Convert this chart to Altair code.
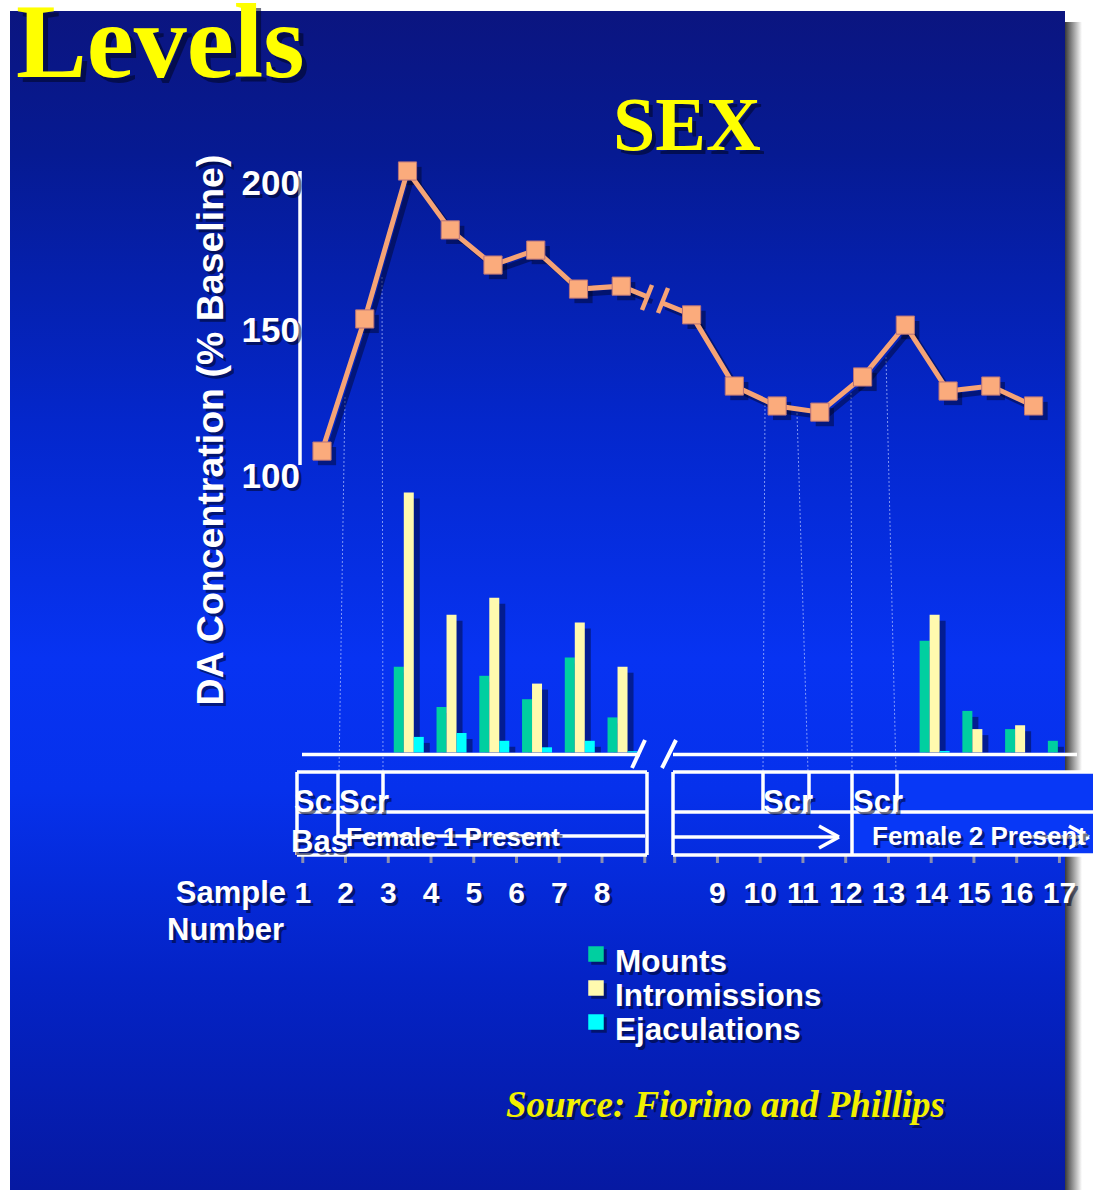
import altair as alt
import pandas as pd

# ---------------------------------------------------------------- data
samples = list(range(1, 18))
# dopamine concentration, % of baseline, one value per 10-min sample
da_concentration = [108.5, 153.6, 204.1, 184.0, 172.0, 177.1, 163.8, 164.8,
                    155.0, 130.7, 123.9, 121.8, 133.8, 151.5, 129.0, 130.7, 123.9]

# copulatory behaviour scored in each sample
mounts = [0, 0, 3.3, 1.75, 2.95, 2.05, 3.65, 1.35, 0, 0, 0, 0, 0, 4.3, 1.6, 0.9, 0.45]
intromissions = [0, 0, 10.0, 5.3, 5.95, 2.65, 5.0, 3.3, 0, 0, 0, 0, 0, 5.3, 0.9, 1.05, 0]
ejaculations = [0, 0, 0.6, 0.75, 0.45, 0.2, 0.45, 0.05, 0, 0, 0, 0, 0, 0.06, 0, 0, 0]

behaviour_names = ["Mounts", "Intromissions", "Ejaculations"]
behaviour_colors = ["#00CFA0", "#FFFAAE", "#00FFFF"]
y_ticks = [100, 150, 200]

# ---------------------------------------------------------------- layout
W, H = 1093, 1190
STEP = 42.75                     # pixels between neighbouring samples
X0 = 1 - 322 / STEP              # sample-axis value at the left edge
DA_PX = 293 / 100                # pixels per % on the DA trace
COUNT_PX = 26                    # pixels per unit of behaviour
SANS = "Liberation Sans, Arial, Helvetica, sans-serif"
SERIF = "Liberation Serif, Times New Roman, serif"
SHADOW = "#000522"
LINE_COLOR = "#F6A476"
MARK_COLOR = "#FBAB7C"

x_scale = alt.Scale(domain=[X0, X0 + W / STEP], range=[0, W], nice=False, zero=False)
da_scale = alt.Scale(domain=[100, 200], range=[476, 183], nice=False, zero=False)
count_scale = alt.Scale(domain=[0, 10], range=[752.5, 492.5], nice=False, zero=False)


def line_x(n):
    # the DA trace has an axis break between samples 8 and 9
    return n + (0.645 if n >= 9 else 0.0)


def bar_x(n):
    return n + (0.03 if n <= 8 else 1.33)


def label_x(n):
    return n - 0.45 if n <= 8 else n + 1.25


ONE = alt.Chart(pd.DataFrame({"k": [0]}))


def text_at(txt, x, y, size, color="white", font=SANS, align="left",
            angle=None, italic=False, limit=None, shadow=3, baseline="alphabetic"):
    """Bold slide text with a dark drop shadow behind it."""
    props = dict(text=txt, font=font, fontSize=size, fontWeight="bold",
                 align=align, baseline=baseline)
    if angle is not None:
        props["angle"] = angle
    if italic:
        props["fontStyle"] = "italic"
    if limit is not None:
        props["limit"] = limit
        props["ellipsis"] = "\u200b"
    out = []
    if shadow:
        out.append(ONE.mark_text(color=SHADOW, opacity=0.55, **props)
                   .encode(x=alt.value(x + shadow), y=alt.value(y + shadow)))
    out.append(ONE.mark_text(color=color, **props).encode(x=alt.value(x), y=alt.value(y)))
    return out


def seg(x1, y1, x2, y2, color="white", width=3.5, dash=None, opacity=1.0):
    kw = dict(color=color, strokeWidth=width, opacity=opacity)
    if dash:
        kw["strokeDash"] = dash
    return ONE.mark_rule(**kw).encode(
        x=alt.value(x1), y=alt.value(y1), x2=alt.value(x2), y2=alt.value(y2))


def box(x1, y1, x2, y2, color):
    return ONE.mark_rect(color=color).encode(
        x=alt.value(x1), x2=alt.value(x2), y=alt.value(y1), y2=alt.value(y2))


layers = []

# ---------------------------------------------------------------- slide background
panel_fill = alt.LinearGradient(
    gradient="linear", x1=0, y1=0, x2=0, y2=1,
    stops=[alt.GradientStop(offset=0.0, color="#0B1580"),
           alt.GradientStop(offset=0.12, color="#061A92"),
           alt.GradientStop(offset=0.35, color="#0427CC"),
           alt.GradientStop(offset=0.55, color="#0733F2"),
           alt.GradientStop(offset=0.66, color="#0631EC"),
           alt.GradientStop(offset=0.82, color="#0423C6"),
           alt.GradientStop(offset=1.0, color="#0619A2")])
layers.append(ONE.mark_rect(color=panel_fill).encode(
    x=alt.value(10), x2=alt.value(1065), y=alt.value(11), y2=alt.value(H)))
edge_shadow = alt.LinearGradient(
    gradient="linear", x1=0, y1=0, x2=1, y2=0,
    stops=[alt.GradientStop(offset=0.0, color="#3A3A3A"),
           alt.GradientStop(offset=1.0, color="#FFFFFF")])
layers.append(ONE.mark_rect(color=edge_shadow).encode(
    x=alt.value(1065), x2=alt.value(1082), y=alt.value(22), y2=alt.value(H)))

# ---------------------------------------------------------------- timeline boxes
layers.append(box(897, 772, W, 812, "#0838F6"))
layers.append(box(852, 812, W, 855, "#0838F6"))
layers.append(box(1065, 772, W, 855, "#0838F6"))

# dotted leaders from the trace down to the timeline
for x1, y1, x2, y2 in [(345, 397, 339, 772), (382, 277, 383, 772),
                       (765, 405, 763, 772), (797, 413, 808, 772),
                       (851, 393, 852, 772), (886, 357, 896, 772)]:
    layers.append(seg(x1, y1, x2, y2, color="#B8C4FF", width=1, dash=[2, 2], opacity=0.7))

# tick marks under the timeline boxes
tick_df = pd.DataFrame({"x": [n - 0.45 for n in range(1, 10)] + [n + 1.25 for n in range(8, 18)]})
layers.append(alt.Chart(tick_df).mark_rule(color="#8A8FB0", strokeWidth=3).encode(
    x=alt.X("x:Q", scale=x_scale, axis=None), y=alt.value(856), y2=alt.value(863)))

# box outlines
for x1, y1, x2, y2 in [
        (297, 772, 647, 772), (297, 812, 647, 812), (297, 855, 647, 855),
        (338, 836, 645, 836),
        (297, 772, 297, 855), (338, 772, 338, 836), (383, 772, 383, 812), (647, 772, 647, 855),
        (673, 772, W, 772), (673, 812, W, 812), (673, 855, W, 855),
        (673, 772, 673, 855), (763, 772, 763, 812), (809, 772, 809, 812),
        (852, 772, 852, 855), (897, 772, 897, 812),
        (673, 837, 838, 837), (819, 826, 839, 837), (819, 848, 839, 837),
        (1030, 837, 1088, 837), (1069, 826, 1089, 837), (1069, 848, 1089, 837)]:
    layers.append(seg(x1, y1, x2, y2))

layers += text_at("Scr", 294, 812, 31, limit=42)
layers += text_at("Scr", 339, 812, 31)
layers += text_at("Bas", 291, 852, 31)
layers += text_at("Female 1 Present", 346, 846, 26)
layers += text_at("Scr", 763, 812, 31)
layers += text_at("Scr", 853, 812, 31)
layers += text_at("Female 2 Present", 872, 845, 26)

# ---------------------------------------------------------------- behaviour bars
half = 5 / STEP
bar_rows = []
for k, (name, values) in enumerate(zip(behaviour_names, [mounts, intromissions, ejaculations])):
    for n, v in zip(samples, values):
        if v > 0:
            c = bar_x(n) + (k - 1) * 2 * half
            bar_rows.append(dict(behaviour=name, x=c - half, x2=c + half, value=v))
bars_df = pd.DataFrame(bar_rows)
shadow_bars = bars_df.assign(x=bars_df.x + 6 / STEP, x2=bars_df.x2 + 6 / STEP,
                             value=(bars_df.value - 6 / COUNT_PX).clip(lower=0))

layers.append(alt.Chart(shadow_bars).mark_rect(color=SHADOW, opacity=0.45).encode(
    x=alt.X("x:Q", scale=x_scale, axis=None), x2="x2:Q",
    y=alt.Y("value:Q", scale=count_scale, axis=None), y2=alt.datum(0)))
layers.append(alt.Chart(bars_df).mark_rect().encode(
    x=alt.X("x:Q", scale=x_scale, axis=None), x2="x2:Q",
    y=alt.Y("value:Q", scale=count_scale, axis=None), y2=alt.datum(0),
    color=alt.Color("behaviour:N", scale=alt.Scale(domain=behaviour_names, range=behaviour_colors),
                    legend=None)))

# bar baseline with its axis-break slashes
layers.append(seg(302, 754.5, 640, 754.5))
layers.append(seg(673, 754.5, 1077, 754.5))
layers.append(seg(632, 768, 645, 740, width=4))
layers.append(seg(662, 768, 676, 740, width=4))

# ---------------------------------------------------------------- DA trace
line_rows = [dict(seg="pre" if n <= 8 else "post", x=line_x(n), da=v, order=n)
             for n, v in zip(samples, da_concentration)]
x8, x9 = line_x(8), line_x(9)
d8, d9 = da_concentration[7], da_concentration[8]
for part, f, order in (("pre", 0.37, 8.4), ("post", 0.56, 8.6)):
    line_rows.append(dict(seg=part, x=x8 + f * (x9 - x8), da=d8 + f * (d9 - d8), order=order))
line_df = pd.DataFrame(line_rows)
pts_df = pd.DataFrame({"x": [line_x(n) for n in samples], "da": da_concentration})

sx, sy = 5 / STEP, 5 / DA_PX
line_shadow = line_df.assign(x=line_df.x + sx, da=line_df.da - sy)
pts_shadow = pts_df.assign(x=pts_df.x + sx, da=pts_df.da - sy)

enc_xy = dict(x=alt.X("x:Q", scale=x_scale, axis=None),
              y=alt.Y("da:Q", scale=da_scale, axis=None))
layers.append(alt.Chart(line_shadow).mark_line(color=SHADOW, strokeWidth=5, opacity=0.45)
              .encode(detail="seg:N", order="order:Q", **enc_xy))
layers.append(alt.Chart(pts_shadow).mark_point(shape="square", filled=True, size=330,
                                               color=SHADOW, opacity=0.45).encode(**enc_xy))
layers.append(alt.Chart(line_df).mark_line(color=LINE_COLOR, strokeWidth=5)
              .encode(detail="seg:N", order="order:Q", **enc_xy))
layers.append(seg(642, 310, 652, 285, color=LINE_COLOR, width=4.5))
layers.append(seg(658, 313, 668, 288, color=LINE_COLOR, width=4.5))
layers.append(alt.Chart(pts_df).mark_point(shape="square", filled=True, size=330, opacity=1,
                                           color=MARK_COLOR, stroke="#B5727A", strokeWidth=1)
              .encode(**enc_xy))

# ---------------------------------------------------------------- DA axis
layers.append(seg(300, 171, 300, 465, width=3.5))
ytick_df = pd.DataFrame({"v": y_ticks, "label": [str(t) for t in y_ticks]})
for d, color, op in ((3, SHADOW, 0.55), (0, "white", 1.0)):
    layers.append(alt.Chart(ytick_df).mark_text(
        font=SANS, fontSize=35, fontWeight="bold", align="right", baseline="alphabetic",
        color=color, opacity=op, dx=d, dy=12 + d).encode(
        x=alt.value(300), y=alt.Y("v:Q", scale=da_scale, axis=None), text="label:N"))
layers += text_at("DA Concentration (% Baseline)", 223, 430, 37.5, angle=270, align="center")

# ---------------------------------------------------------------- sample axis
sample_df = pd.DataFrame({"x": [label_x(n) for n in samples], "label": [str(n) for n in samples]})
for d, color, op in ((3, SHADOW, 0.55), (0, "white", 1.0)):
    layers.append(alt.Chart(sample_df).mark_text(
        font=SANS, fontSize=30, fontWeight="bold", align="center", baseline="alphabetic",
        color=color, opacity=op, dx=d, dy=d).encode(
        x=alt.X("x:Q", scale=x_scale, axis=None), y=alt.value(903), text="label:N"))
layers += text_at("Sample", 286, 903, 31, align="right")
layers += text_at("Number", 167, 940, 31)

# ---------------------------------------------------------------- legend
for i, (name, color) in enumerate(zip(behaviour_names, behaviour_colors)):
    layers.append(ONE.mark_point(shape="square", filled=True, size=240, color=SHADOW, opacity=0.5)
                  .encode(x=alt.value(599), y=alt.value(957 + 34 * i)))
    layers.append(ONE.mark_point(shape="square", filled=True, size=240, color=color, opacity=1)
                  .encode(x=alt.value(596), y=alt.value(954 + 34 * i)))
    layers += text_at(name, 615, 972 + 34 * i, 31.5)

# ---------------------------------------------------------------- titles
layers += text_at("Levels", 16, 77, 106, color="#FFFF00", font=SERIF, shadow=5)
layers += text_at("SEX", 687, 150, 76, color="#FFFF00", font=SERIF, align="center", shadow=4)
layers += text_at("Source: Fiorino and Phillips", 506, 1117, 37, color="#F2F000",
                  font=SERIF, italic=True, shadow=3)

chart = alt.layer(*layers).resolve_scale(y="independent").properties(
    width=W, height=H, padding=0, background="white",
    autosize=alt.AutoSizeParams(type="none"),
).configure_view(stroke=None)

chart.save("out.html", embed_options={"renderer": "svg", "actions": False})
